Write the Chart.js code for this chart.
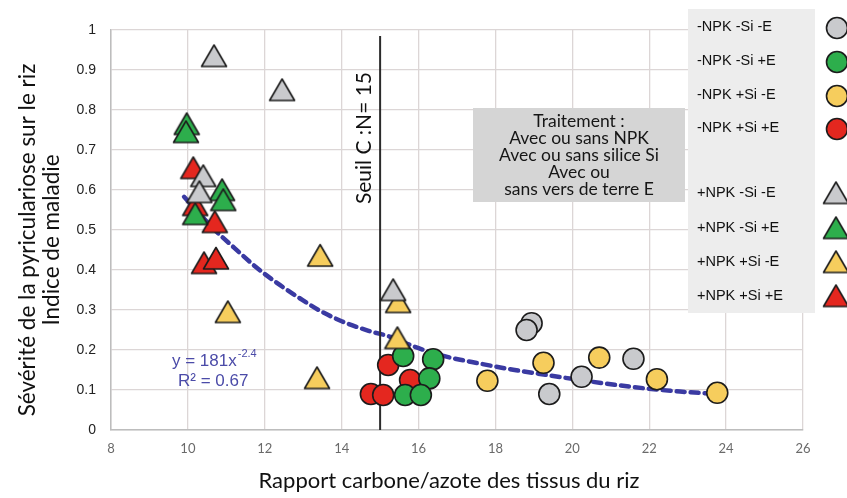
<!DOCTYPE html>
<html>
<head>
<meta charset="utf-8">
<script src="https://cdn.jsdelivr.net/npm/chart.js@4/dist/chart.umd.min.js"></script>
<style>
  html, body { margin: 0; padding: 0; background: #ffffff; }
  #wrap { width: 847px; height: 498px; }
</style>
</head>
<body>
<div id="wrap"><canvas id="c" width="847" height="498"></canvas></div>
<script>
// Axis ticks
const xTicks = [8, 10, 12, 14, 16, 18, 20, 22, 24, 26];
const yTickLabels = ['0', '0.1', '0.2', '0.3', '0.4', '0.5', '0.6', '0.7', '0.8', '0.9', '1'];

// Treatment labels (legend)
const seriesLabels = [
  '-NPK -Si -E', '-NPK -Si +E', '-NPK +Si -E', '-NPK +Si +E',
  '+NPK -Si -E', '+NPK -Si +E', '+NPK +Si -E', '+NPK +Si +E'
];

// Without NPK (circles): C/N ratio and disease index
const noNpkNoSiNoEX = [18.94, 18.81, 19.40, 20.24, 21.59];
const noNpkNoSiNoEY = [0.267, 0.25, 0.09, 0.133, 0.178];
const noNpkNoSiEX = [15.60, 16.38, 16.28, 15.65, 16.06];
const noNpkNoSiEY = [0.185, 0.177, 0.129, 0.0875, 0.0875];
const noNpkSiNoEX = [17.79, 19.25, 20.70, 22.20, 23.77];
const noNpkSiNoEY = [0.123, 0.168, 0.181, 0.127, 0.093];
const noNpkSiEX = [15.21, 15.78, 14.76, 15.08];
const noNpkSiEY = [0.1625, 0.125, 0.09, 0.0875];

// With NPK (triangles)
const npkNoSiNoEX = [10.68, 12.45, 10.40, 10.30, 15.34];
const npkNoSiNoEY = [0.935, 0.85, 0.635, 0.595, 0.35];
const npkNoSiEX = [9.97, 9.95, 10.89, 10.92, 10.19];
const npkNoSiEY = [0.765, 0.745, 0.60, 0.575, 0.54];
const npkSiNoEX = [11.04, 13.44, 13.36, 15.47, 15.45];
const npkSiNoEY = [0.295, 0.436, 0.13, 0.32, 0.23];
const npkSiEX = [10.14, 10.19, 10.70, 10.42, 10.73];
const npkSiEY = [0.655, 0.5625, 0.52, 0.4175, 0.429];

// Power trend line
const trendX = [9.9, 10.7, 11.2, 11.8, 12.4, 12.9, 13.4, 14.0, 14.7, 15.3, 15.9, 16.7, 17.6, 18.5, 19.3, 20.2, 21.1, 21.9, 22.8, 23.6];
const trendY = [0.583, 0.50, 0.456, 0.405, 0.362, 0.330, 0.300, 0.272, 0.248, 0.232, 0.208, 0.184, 0.166, 0.15, 0.138, 0.125, 0.113, 0.104, 0.096, 0.091];

// C:N threshold
const thresholdCN = 15;
const thresholdTop = 0.985;

const boxLines = ['Traitement :', 'Avec ou sans NPK', 'Avec ou sans silice Si', 'Avec ou', 'sans vers de terre E'];

const fills = { grey: '#c9cacd', green: '#2dae4c', yellow: '#f6cd5d', red: '#e4271f' };
const outline = '#1c1c1c';

const pts = (xs, ys) => xs.map((v, i) => ({ x: v, y: ys[i] }));

// Triangle marker centred on its bounding box
function triangle(fill) {
  const c = document.createElement('canvas');
  c.width = 28; c.height = 25;
  const g = c.getContext('2d');
  g.beginPath();
  g.moveTo(14, 1.5);
  g.lineTo(26.5, 23);
  g.lineTo(1.5, 23);
  g.closePath();
  g.fillStyle = fill;
  g.fill();
  g.lineWidth = 1.6;
  g.lineJoin = 'round';
  g.strokeStyle = outline;
  g.stroke();
  return c;
}

function circleSet(label, xs, ys, fill) {
  return {
    type: 'scatter', label, data: pts(xs, ys), order: 2,
    pointStyle: 'circle', pointRadius: 10.5, pointHoverRadius: 10.5,
    backgroundColor: fill, borderColor: outline, borderWidth: 1.6
  };
}
function triangleSet(label, xs, ys, fill) {
  const img = triangle(fill);
  return {
    type: 'scatter', label, data: pts(xs, ys), order: 1,
    pointStyle: img, pointRadius: 12, backgroundColor: fill, borderColor: outline,
    legendImg: img
  };
}

const datasets = [
  circleSet(seriesLabels[0], noNpkNoSiNoEX, noNpkNoSiNoEY, fills.grey),
  circleSet(seriesLabels[1], noNpkNoSiEX, noNpkNoSiEY, fills.green),
  circleSet(seriesLabels[2], noNpkSiNoEX, noNpkSiNoEY, fills.yellow),
  circleSet(seriesLabels[3], noNpkSiEX, noNpkSiEY, fills.red),
  triangleSet(seriesLabels[4], npkNoSiNoEX, npkNoSiNoEY, fills.grey),
  triangleSet(seriesLabels[5], npkNoSiEX, npkNoSiEY, fills.green),
  triangleSet(seriesLabels[6], npkSiNoEX, npkSiNoEY, fills.yellow),
  triangleSet(seriesLabels[7], npkSiEX, npkSiEY, fills.red),
  {
    type: 'line', label: 'tendance', data: pts(trendX, trendY), order: 20,
    borderColor: '#3a3aa2', borderWidth: 4.5, borderDash: [8, 6], borderCapStyle: 'round',
    pointRadius: 0, fill: false, cubicInterpolationMode: 'monotone'
  },
  {
    type: 'line', label: 'seuil', data: [{ x: thresholdCN, y: 0 }, { x: thresholdCN, y: thresholdTop }], order: 19,
    borderColor: '#2b2b2b', borderWidth: 2, pointRadius: 0, fill: false
  }
];

const textFont = 'Lato, "Open Sans", sans-serif';
const armFont = '"Liberation Sans", Arial, sans-serif';

const decorations = {
  id: 'decorations',
  afterDraw(chart) {
    const { ctx, scales: { x } } = chart;
    ctx.save();

    // Threshold label
    ctx.fillStyle = '#111';
    ctx.font = '21px ' + textFont;
    ctx.textAlign = 'center';
    ctx.textBaseline = 'middle';
    ctx.save();
    ctx.translate(x.getPixelForValue(thresholdCN) - 16, 138);
    ctx.rotate(-Math.PI / 2);
    ctx.fillText('Seuil C :N= 15', 0, 0);
    ctx.restore();

    // Treatment box
    ctx.fillStyle = '#d5d5d5';
    ctx.fillRect(473, 108, 212, 94);
    ctx.fillStyle = '#161616';
    ctx.font = '17.5px ' + textFont;
    boxLines.forEach((t, i) => ctx.fillText(t, 579, 121 + i * 17));

    // Trend equation
    ctx.fillStyle = '#4b4ba8';
    ctx.textAlign = 'left';
    ctx.textBaseline = 'alphabetic';
    ctx.font = '17px ' + armFont;
    ctx.fillText('y = 181x', 172, 366);
    const w = ctx.measureText('y = 181x').width;
    ctx.font = '11px ' + armFont;
    ctx.fillText('-2.4', 172 + w + 1, 357);
    ctx.font = '17px ' + armFont;
    ctx.fillText('R² = 0.67', 178, 386);

    // Legend
    ctx.fillStyle = '#ededed';
    ctx.fillRect(688, 9, 127, 304);
    const rows = [27, 61, 95, 128, 193, 228, 262, 296];
    ctx.font = '14.5px ' + armFont;
    ctx.textBaseline = 'middle';
    chart.data.datasets.slice(0, 8).forEach((ds, i) => {
      ctx.fillStyle = '#111';
      ctx.fillText(ds.label, 697, rows[i]);
      if (ds.legendImg) {
        ctx.drawImage(ds.legendImg, 836 - 14, rows[i] - 12.5);
      } else {
        ctx.beginPath();
        ctx.arc(837, rows[i] + 1, 10.5, 0, Math.PI * 2);
        ctx.fillStyle = ds.backgroundColor;
        ctx.fill();
        ctx.lineWidth = 1.6;
        ctx.strokeStyle = outline;
        ctx.stroke();
      }
    });

    // Axis titles
    ctx.fillStyle = '#111';
    ctx.textAlign = 'center';
    ctx.font = '22px ' + textFont;
    ctx.fillText('Rapport carbone/azote des tissus du riz', 449, 481);
    ctx.save();
    ctx.translate(28, 240);
    ctx.rotate(-Math.PI / 2);
    ctx.font = '22.5px ' + textFont;
    ctx.fillText('Sévérité de la pyriculariose sur le riz', 0, 0);
    ctx.fillText('Indice de maladie', 0, 24);
    ctx.restore();

    ctx.restore();
  }
};

new Chart(document.getElementById('c'), {
  data: { datasets },
  options: {
    responsive: false,
    animation: false,
    events: [],
    layout: { padding: { top: 30, right: 44, left: 0, bottom: 0 } },
    plugins: { legend: { display: false }, tooltip: { enabled: false } },
    scales: {
      x: {
        type: 'linear', min: xTicks[0], max: xTicks[xTicks.length - 1],
        afterBuildTicks: s => { s.ticks = xTicks.map(v => ({ value: v })); },
        afterFit: s => { s.height = 68; },
        grid: { color: '#dcd6d6', lineWidth: 1.3, drawTicks: false },
        border: { color: '#bdbdbd', width: 1.5 },
        ticks: { padding: 11, color: '#6a6a6a', font: { family: textFont, size: 13 } }
      },
      y: {
        type: 'linear', min: 0, max: 1,
        afterBuildTicks: s => { s.ticks = yTickLabels.map((t, i) => ({ value: i / 10 })); },
        afterFit: s => { s.width = 111; },
        grid: { color: '#dcd6d6', lineWidth: 1.3, drawTicks: false },
        border: { color: '#bdbdbd', width: 1.5 },
        ticks: {
          padding: 15, color: '#222', font: { family: armFont, size: 14 },
          callback: (v, i) => yTickLabels[i]
        }
      }
    }
  },
  plugins: [decorations]
});
</script>
</body>
</html>
